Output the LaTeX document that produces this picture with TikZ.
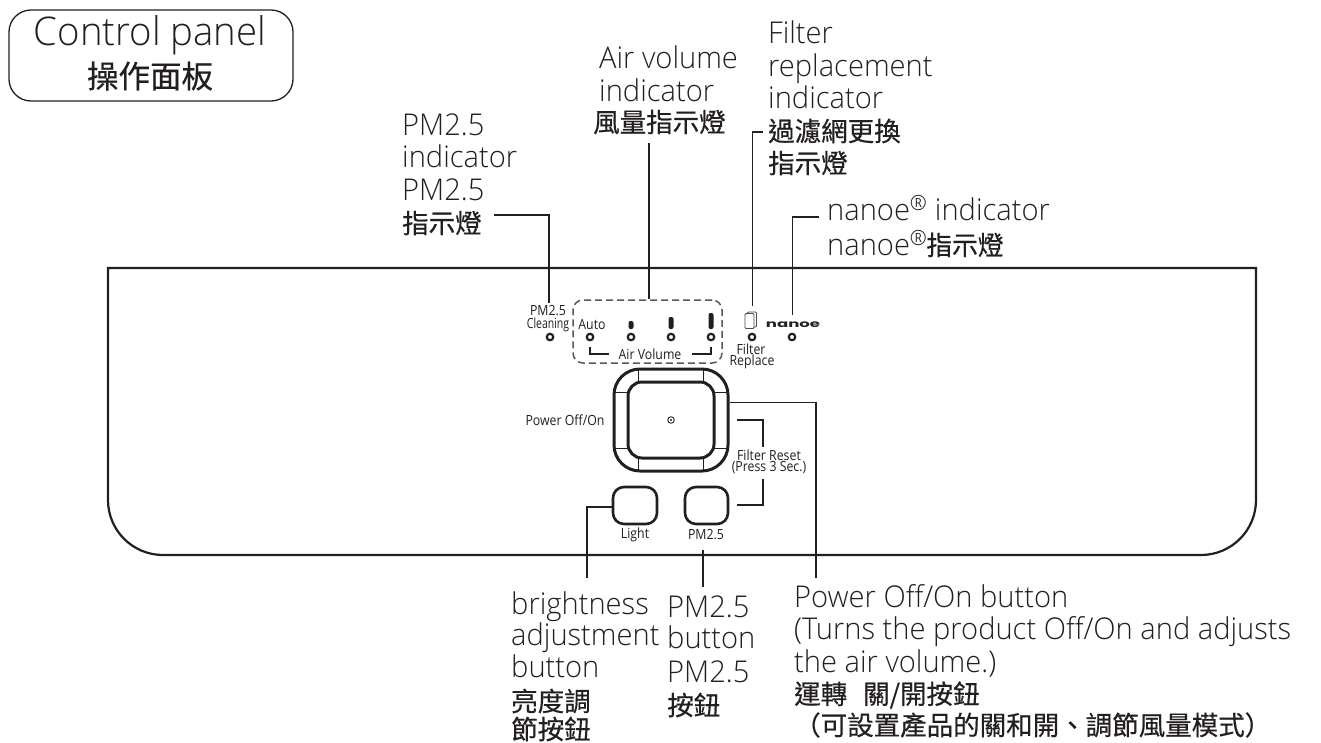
\documentclass[tikz,border=0pt]{standalone}
\usepackage{fontspec}
\setmainfont{Open Sans Light}
\newfontfamily\smallfont{Open Sans}
\newfontfamily\cjk{Noto Sans CJK TC}
\newfontfamily\nanofont{Poppins}
\definecolor{ink}{HTML}{231F20}
\newcommand{\cjkb}{\cjk\fontsize{26.5}{32}\selectfont\addfontfeature{FakeBold=0.5}}
\tikzset{
  x=1pt,y=-1pt,
  lab/.style={anchor=base west,inner sep=0pt,xscale=.97,font=\fontsize{30}{32}\selectfont,text=ink},
  cj/.style={anchor=west,inner sep=0pt,font=\cjkb,text=ink},
  tiny/.style={inner sep=0pt,xscale=.88,font=\smallfont\fontsize{14}{14}\selectfont,text=ink},
  lead/.style={draw=ink,line width=1.1pt},
  led/.style={draw=ink,line width=2.2pt,circle,minimum size=6.5pt,inner sep=0pt},
  btn/.style={draw=ink,line width=2.6pt,rounded corners=11pt},
  bar/.style={fill=ink,rounded corners=2pt}
}
\begin{document}
\begin{tikzpicture}
\useasboundingbox (0,0) rectangle (1321,742);
% title
\draw[ink,line width=1.3pt,rounded corners=22pt] (9,10) rectangle (293,101);
\node[anchor=base,inner sep=0pt,xscale=.97,font=\fontsize{39.5}{40}\selectfont,text=ink] (title) at (150,45) {Control panel};
\node[inner sep=0pt,font=\cjk\fontsize{31.5}{36}\selectfont\addfontfeature{FakeBold=0.5},text=ink] (titlez) at (150,76) {操作面板};
% panel
\draw[ink,line width=2.2pt] (108,268) -- (1256,268) -- (1256,500) arc[start angle=0,end angle=90,radius=55] -- (163,555) arc[start angle=90,end angle=180,radius=55] -- cycle;
% dashed group
\node[draw=ink!75,line width=1.5pt,dash pattern=on 7pt off 4pt,rounded corners=10pt,minimum width=149pt,minimum height=63pt,inner sep=0pt] (group) at (647.5,331.5) {};
% LEDs
\foreach \n/\x in {a/550,b/590,c/631,d/671,e/711,f/752,g/792}{\node[led] (led\n) at (\x,337) {};}
% bars
\fill[bar] (628.5,321) rectangle (633.5,329);
\fill[bar] (668.5,317) rectangle (673.5,329);
\fill[bar] (708.5,313) rectangle (713.5,329);
% filter icon
\node[draw=ink!80,line width=.8pt,minimum width=9pt,minimum height=15pt,inner sep=0pt,rounded corners=1pt] (iconb) at (752,319.5) {};
\node[draw=ink!80,fill=white,line width=.8pt,minimum width=9pt,minimum height=15pt,inner sep=0pt,rounded corners=1pt] (icon) at (749.5,321) {};
% small printed text
\node[tiny] (tpm) at (548,311) {PM2.5};
\node[tiny,xscale=.85] (tcl) at (548,325) {Cleaning};
\node[tiny] (tauto) at (592,325) {Auto};
\node[tiny] (tav) at (650,354) {Air Volume};
\node[tiny] (tfi) at (751,349) {Filter};
\node[tiny] (trp) at (752,362) {Replace};
\node[inner sep=0pt,font=\nanofont\bfseries\fontsize{10}{10}\selectfont,text=ink,xscale=1.65] (tnano) at (793,325) {nanoe};
\node[tiny] (tpo) at (565,420) {Power Off/On};
\node[tiny] (trs) at (769,455) {Filter Reset};
\node[tiny] (tpr) at (769,468) {(Press 3 Sec.)};
\node[tiny] (tli) at (635,535) {Light};
\node[tiny] (tp2) at (706,535) {PM2.5};
\draw[lead] (590,347) -- (590,354) -- (609,354);
\draw[lead] (692,354) -- (711,354) -- (711,347);
% power button
\node[draw=ink,line width=3pt,rounded corners=26pt,minimum width=114pt,minimum height=102pt,inner sep=0pt] (pow) at (671,420) {};
\node[draw=ink,line width=3pt,rounded corners=14pt,minimum width=86pt,minimum height=76pt,inner sep=0pt] (powin) at (671,420) {};
\foreach \x in {638,703}{\draw[ink,line width=.7pt] (\x,369) -- (\x,382) (\x,458) -- (\x,471);}
\foreach \y in {392,448}{\draw[ink,line width=.7pt] (614,\y) -- (628,\y) (714,\y) -- (728,\y);}
\node[draw=ink,line width=.9pt,circle,minimum size=6.5pt,inner sep=0pt] (dot) at (671,420) {};
\fill[ink] (dot.center) circle (1.2pt);
% small buttons
\node[btn,minimum width=44pt,minimum height=37pt,inner sep=0pt] (blight) at (635,505.5) {};
\node[btn,minimum width=43pt,minimum height=37pt,inner sep=0pt] (bpm) at (706.5,505.5) {};
% filter reset bracket
\coordinate (fr1) at (737,420); \coordinate (fr2) at (763,420); \coordinate (fr3) at (763,447);
\coordinate (fr4) at (763,479); \coordinate (fr5) at (763,505); \coordinate (fr6) at (737,505);
\draw[lead] (fr1) -- (fr2) -- (fr3);
\draw[lead] (fr4) -- (fr5) -- (fr6);
% labels
\node[lab] (l1a) at (402,135) {PM2.5};
\node[lab] (l1b) at (402,167) {indicator};
\node[lab] (l1c) at (402,200) {PM2.5};
\node[cj] (l1d) at (402,223) {指示燈};
\node[lab] (l2a) at (599,68) {Air volume};
\node[lab] (l2b) at (599,101) {indicator};
\node[cj] (l2c) at (593,122) {風量指示燈};
\node[lab] (l3a) at (768,43) {Filter};
\node[lab] (l3b) at (768,76) {replacement};
\node[lab] (l3c) at (768,108) {indicator};
\node[cj] (l3d) at (768,131) {過濾網更換};
\node[cj] (l3e) at (768,163) {指示燈};
\node[lab] (l4a) at (827,220) {nanoe\textsuperscript{®} indicator};
\node[lab] (l4b) at (827,255) {nanoe\textsuperscript{®}{\cjkb\hspace{-1pt}指示燈}};
\node[lab] (l5a) at (511,614) {brightness};
\node[lab] (l5b) at (511,645) {adjustment};
\node[lab] (l5c) at (511,677) {button};
\node[cj] (l5d) at (511,701) {亮度調};
\node[cj] (l5e) at (511,729) {節按鈕};
\node[lab] (l6a) at (667,617) {PM2.5};
\node[lab] (l6b) at (667,648) {button};
\node[lab] (l6c) at (667,682) {PM2.5};
\node[cj] (l6d) at (667,705) {按鈕};
\node[lab] (l7a) at (794,607) {Power Off/On button};
\node[lab] (l7b) at (794,639) {(Turns the product Off/On and adjusts};
\node[lab] (l7c) at (794,672) {the air volume.)};
\node[cj] (l7d) at (794,695) {運轉\hspace{16pt}關/開按鈕};
\node[cj] (l7e) at (794,725) {（可設置產品的關和開、調節風量模式）};
% leaders
\coordinate (c1) at (494,215); \coordinate (c1b) at (549,215); \coordinate (c1e) at (549,303);
\draw[lead] (c1) -- (c1b) -- (c1e);
\coordinate (c2) at (649,143);
\draw[lead] (c2) -- (c2 |- group.north);
\coordinate (c3) at (763,132); \coordinate (c3b) at (752.5,132); \coordinate (c3e) at (752.5,306);
\draw[lead] (c3) -- (c3b) -- (c3e);
\coordinate (c4) at (819,217); \coordinate (c4b) at (792.5,217); \coordinate (c4e) at (792.5,315);
\draw[lead] (c4) -- (c4b) -- (c4e);
\coordinate (c5) at (587,578); \coordinate (c5b) at (587,507);
\draw[lead] (c5) -- (c5b) -- (blight.west |- c5b);
\coordinate (c6) at (703,550); \coordinate (c6e) at (703,587);
\draw[lead] (c6) -- (c6e);
\coordinate (c7) at (816,402.5); \coordinate (c7e) at (816,578);
\draw[lead] (pow.east |- c7) -- (c7) -- (c7e);
\end{tikzpicture}
\end{document}
